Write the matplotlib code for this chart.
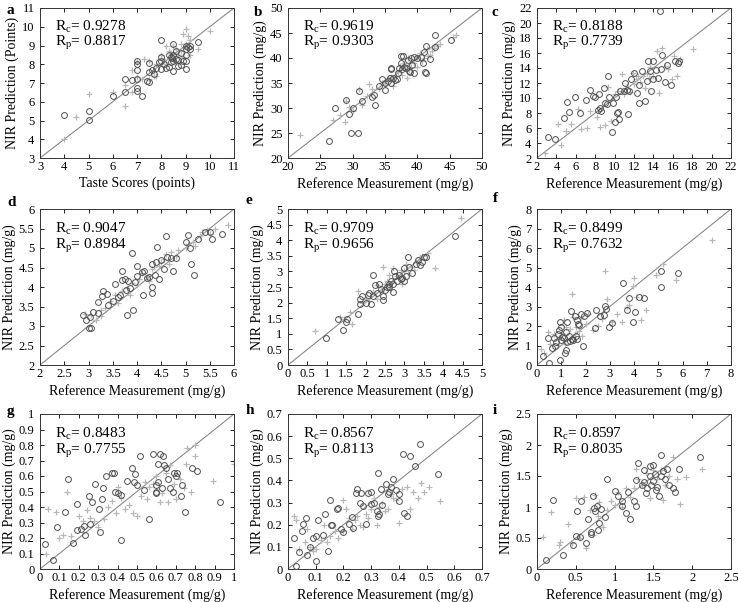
import numpy as np
import matplotlib.pyplot as plt

plt.rcParams['font.family'] = ['Liberation Serif', 'DejaVu Serif']
plt.rcParams['mathtext.fontset'] = 'custom'
plt.rcParams['mathtext.rm'] = 'Liberation Serif'

# ---- data: (reference, predicted) ; cal = "+" points, pred = "o" points ----
a_pred = [(4.0,5.3),(5.0,5.5),(5.0,5.05),(6.0,6.3),(6.5,7.2),(6.5,6.5),(6.8,7.15),(7.0,8.2),(7.0,8.0),(7.0,7.7),
          (7.0,7.2),(7.0,6.75),(7.0,6.6),(7.2,6.3),(7.4,7.1),(7.5,7.05),(7.5,7.6),(7.5,8.05),(7.6,7.7),(7.8,7.8),
          (7.9,8.1),(8.0,9.3),(8.0,8.4),(8.0,8.2),(8.0,7.75),(8.1,8.0),(8.2,7.8),(8.3,7.85),(8.4,8.1),(8.4,8.4),
          (8.5,8.5),(8.5,9.1),(8.5,7.65),(8.5,8.2),(8.6,8.3),(8.6,8.7),(8.7,7.9),(8.7,8.25),(8.8,8.6),(8.8,7.95),
          (8.9,8.2),(9.0,9.0),(9.0,8.8),(9.0,8.2),(9.0,7.75),(9.0,8.5),(9.1,8.9),(9.2,9.0),(9.2,8.8),(9.5,9.2),
          (8.3,8.5),(8.45,8.35),(7.7,7.5)]
a_cal = [(4.0,4.0),(4.5,5.2),(5.0,6.4),(6.0,6.5),(6.5,5.8),(6.5,6.9),(6.8,7.7),(6.8,6.5),(7.0,7.3),(7.0,8.1),
         (7.2,7.2),(7.3,8.3),(7.5,8.2),(7.5,7.2),(7.7,7.4),(7.8,8.0),(7.8,7.35),(8.0,8.5),(8.1,8.3),(8.2,8.0),
         (8.3,8.7),(8.4,8.6),(8.5,8.95),(8.5,8.3),(8.6,8.8),(8.7,8.5),(8.8,9.1),(8.8,8.7),(8.9,8.4),(9.0,9.9),
         (9.0,9.1),(9.1,9.5),(9.2,8.5),(9.2,9.3),(9.5,8.8),(10.0,9.75),(8.6,8.1),(8.9,9.6),(8.2,9.0)]

b_pred = [(26.4,23.5),(27.3,30),(29,31.7),(29.5,28.8),(29.7,25.1),(30,30),(30.9,25.1),(31,33.5),(31.5,31.5),(33,32.3),
          (33.3,32.6),(33.5,30.6),(34,34.4),(34.5,35.8),(35,33.7),(35,35.1),(35.5,35.5),(35.8,36.1),(36,37.9),(36,38),
          (36,35),(36.3,36),(36.5,35.7),(36.8,35.9),(37,37),(37.2,38),(37.5,39),(37.5,40.4),(37.8,40.4),(37.7,37.9),
          (38,38.2),(38.2,38),(38.5,39.6),(38.7,37.4),(39,40),(39.2,38.6),(39.5,37),(39.5,40.2),(40,40),(40.5,40.3),
          (40.8,39),(41,41.2),(41.2,37.3),(41.4,37),(41.4,42.5),(42,39.8),(42.7,44.6),(42.8,42.3),(45.2,43.7),(38.8,37.2)]
b_cal = [(21.8,24.6),(27,27.6),(28,28.6),(28.8,27.3),(29,31.5),(29.5,30.3),(30,29.5),(31.5,30.6),(31,33.8),(32.2,32.5),
         (32.5,34.8),(33,33.8),(34,34),(34.5,35),(35,34.6),(35.5,36),(36,36.3),(36.3,34.5),(37,37.3),(37.3,38.5),
         (37.7,36.6),(38,39.1),(38.4,36),(38.7,37.6),(39,38.2),(39.5,39.1),(39.9,40.3),(40,38.3),(40.4,41.1),(40.7,39.5),
         (41,40),(41.5,41.9),(41.7,40.5),(42,40.7),(42.5,42),(43,42.5),(43.5,42.8),(45.5,44.2),(46,44.6),(42.2,41.4),
         (38.6,40)]

c_pred = [(3.1,4.8),(3.9,4.6),(4.8,7.4),(5.1,9.5),(5.3,8.1),(5.9,10.1),(6.4,8.0),(7.0,9.8),(7.5,11.1),(7.8,10.3),
          (8.0,10.1),(8.4,10.5),(8.3,8.4),(8.5,8.7),(8.6,8.3),(8.9,11.3),(9.0,9.3),(9.2,9.2),(9.3,12.9),(9.4,10.1),
          (9.7,5.5),(9.8,9.4),(10.0,6.8),(10.1,10.1),(10.2,8.0),(10.3,8.2),(10.5,7.2),(10.6,11.0),(11.0,11.0),(11.1,12.0),
          (11.3,11.1),(11.4,7.9),(11.5,11.0),(11.7,12.5),(12.0,13.4),(12.3,10.7),(12.5,9.3),(12.5,11.8),(12.8,13.6),(13.1,9.6),
          (13.3,12.3),(13.4,15.0),(13.6,13.6),(13.8,11.0),(14.0,12.5),(14.0,14.9),(14.3,13.8),(14.5,12.7),(14.7,21.6),(14.8,13.9),
          (14.9,15.8),(15.2,12.2),(15.4,14.4),(15.8,11.8),(16.2,14.9),(16.5,14.7),(16.6,15.0)]
c_cal = [(2.8,2.7),(4.2,6.5),(4.5,3.8),(5.0,5.6),(5.5,6.6),(6.2,8.6),(6.5,5.9),(7.2,6.0),(7.5,8.3),(8.2,7.5),
         (8.5,6.2),(9.0,6.4),(9.3,11.5),(9.6,7.0),(10.0,10.5),(10.4,10.9),(10.8,13.2),(11.0,10.5),(11.3,11.6),(11.6,10.8),
         (12.0,11.9),(12.2,12.6),(12.6,12.1),(12.9,13.0),(13.1,11.4),(13.3,13.3),(13.5,12.7),(13.7,14.1),(14.0,13.0),(14.4,16.3),
         (14.6,10.7),(14.9,16.6),(15.2,14.3),(15.5,13.9),(15.9,12.5),(16.1,15.6),(16.4,13.0),(16.7,15.2),(18.1,16.5),(12.4,12.9),
         (11.9,13.4)]

d_pred = [(2.88,3.27),(2.95,3.16),(3.0,2.95),(3.05,2.95),(3.03,3.22),(3.1,3.35),(3.2,3.62),(3.2,3.33),(3.27,3.77),(3.3,3.9),
          (3.38,3.83),(3.4,3.55),(3.5,3.65),(3.55,4.07),(3.6,3.75),(3.65,3.8),(3.7,4.18),(3.7,4.4),(3.75,4.2),(3.78,3.93),
          (3.8,3.27),(3.82,4.15),(3.85,3.97),(3.9,4.87),(3.92,3.42),(3.95,4.12),(4.0,4.28),(4.0,4.53),(4.1,4.38),(4.12,3.8),
          (4.15,4.42),(4.2,4.23),(4.25,4.25),(4.3,3.85),(4.3,4.0),(4.3,4.6),(4.38,4.3),(4.4,4.65),(4.42,5.03),(4.45,4.2),
          (4.5,4.7),(4.55,4.45),(4.6,5.3),(4.62,4.78),(4.7,4.75),(4.75,4.4),(4.8,4.75),(5.0,5.15),(5.05,5.33),(5.1,5.0),
          (5.12,4.6),(5.18,4.3),(5.25,5.22),(5.4,5.4),(5.5,5.4),(5.55,5.22),(5.75,5.35)]
d_cal = [(2.92,3.32),(3.05,3.28),(3.15,3.15),(3.25,3.42),(3.35,3.45),(3.45,3.65),(3.55,3.8),(3.6,3.6),(3.7,3.9),(3.8,3.98),
         (3.85,3.8),(3.9,4.1),(4.0,4.05),(4.05,4.2),(4.1,4.35),(4.2,4.25),(4.3,4.45),(4.35,4.52),(4.45,4.55),(4.5,4.65),
         (4.55,4.72),(4.6,4.85),(4.65,4.6),(4.7,4.9),(4.8,4.8),(4.85,4.95),(5.0,5.0),(5.05,5.1),(5.15,5.15),(5.2,5.05),
         (5.3,5.3),(5.35,5.4),(5.45,5.45),(5.5,5.35),(5.6,5.5),(5.88,5.58),(3.25,3.25),(4.25,4.15)]

e_pred = [(0.98,0.87),(1.28,1.48),(1.42,1.12),(1.5,1.38),(1.52,1.47),(1.8,1.62),(1.85,1.95),(1.9,2.2),(2.0,2.0),(2.05,2.25),
          (2.1,2.3),(2.15,1.95),(2.2,2.9),(2.2,2.2),(2.25,2.55),(2.3,2.3),(2.35,2.6),(2.4,2.45),(2.45,2.2),(2.45,2.08),
          (2.5,2.4),(2.55,2.5),(2.6,2.5),(2.65,2.7),(2.7,2.35),(2.7,2.6),(2.72,3.0),(2.75,2.85),(2.8,2.7),(2.85,2.9),
          (2.9,2.75),(2.95,2.8),(3.0,3.1),(3.0,2.7),(3.05,2.85),(3.1,3.45),(3.12,3.15),(3.2,2.95),(3.3,3.25),(3.35,3.35),
          (3.4,3.2),(3.45,3.3),(3.5,3.45),(3.55,3.45),(4.3,4.15),(2.6,2.6),(1.85,2.12)]
e_cal = [(0.7,1.1),(1.35,1.55),(1.45,1.48),(1.6,1.7),(1.8,2.38),(1.9,2.0),(2.0,2.1),(2.1,2.05),(2.2,2.35),(2.3,2.55),
         (2.3,2.1),(2.4,2.4),(2.5,2.6),(2.55,2.7),(2.6,2.9),(2.65,2.45),(2.7,3.1),(2.8,2.85),(2.9,3.05),(2.95,2.6),
         (3.0,3.0),(3.05,3.25),(3.1,2.95),(3.2,3.15),(3.25,3.05),(3.3,3.3),(3.4,3.45),(3.45,3.5),(3.6,3.6),(3.8,3.12),
         (4.45,4.7),(2.45,3.15),(1.65,1.3)]

f_pred = [(0.25,0.45),(0.45,1.4),(0.5,0.1),(0.6,0.85),(0.7,1.4),(0.75,1.0),(0.8,1.2),(0.85,1.6),(0.9,1.8),(0.95,2.2),
          (0.95,0.25),(1.0,1.3),(1.0,1.95),(1.05,1.45),(1.1,1.4),(1.15,0.6),(1.2,0.75),(1.2,1.7),(1.25,2.2),(1.25,1.2),
          (1.3,1.5),(1.35,1.25),(1.4,2.75),(1.45,1.35),(1.5,1.3),(1.55,2.5),(1.6,1.5),(1.65,2.3),(1.7,2.1),(1.75,2.05),
          (1.8,2.6),(1.9,1.0),(1.95,2.5),(2.05,2.65),(2.4,1.9),(2.45,2.8),(2.6,2.5),(2.75,2.55),(2.8,3.05),(2.85,2.85),
          (2.95,1.95),(3.1,2.15),(3.55,4.2),(3.7,2.8),(3.8,3.45),(3.95,2.2),(4.05,2.7),(4.2,3.5),(4.4,3.45),(5.1,4.0),
          (5.1,4.8),(5.8,4.7),(1.65,1.35)]
f_cal = [(0.15,0.8),(0.3,0.6),(0.45,1.7),(0.55,1.1),(0.7,1.6),(0.85,1.05),(0.9,1.4),(1.05,1.65),(1.1,2.3),(1.15,1.1),
         (1.2,1.95),(1.35,1.85),(1.45,3.65),(1.5,2.45),(1.55,1.6),(1.6,1.95),(1.75,1.75),(1.8,2.4),(1.85,1.5),(2.0,2.1),
         (2.1,2.6),(2.3,1.8),(2.5,2.0),(2.7,2.35),(2.8,4.8),(2.9,3.4),(3.1,2.2),(3.3,2.6),(3.5,2.2),(3.7,3.0),
         (3.8,3.1),(4.0,4.45),(4.1,3.5),(4.3,2.3),(4.5,2.8),(4.9,4.6),(5.2,5.2),(5.75,4.35),(7.2,6.4),(3.95,4.05)]

g_pred = [(0.025,0.16),(0.065,0.06),(0.09,0.27),(0.13,0.37),(0.145,0.58),(0.17,0.17),(0.19,0.42),(0.19,0.25),(0.21,0.26),(0.225,0.28),
          (0.23,0.22),(0.25,0.47),(0.26,0.29),(0.27,0.43),(0.285,0.55),(0.305,0.39),(0.31,0.24),(0.32,0.45),(0.325,0.52),(0.34,0.6),
          (0.37,0.62),(0.38,0.62),(0.385,0.50),(0.4,0.49),(0.415,0.48),(0.42,0.19),(0.45,0.57),(0.475,0.65),(0.485,0.56),(0.49,0.61),
          (0.5,0.54),(0.515,0.73),(0.535,0.51),(0.56,0.32),(0.58,0.74),(0.6,0.49),(0.6,0.54),(0.61,0.56),(0.61,0.68),(0.62,0.74),
          (0.63,0.52),(0.635,0.73),(0.64,0.67),(0.65,0.65),(0.66,0.58),(0.67,0.52),(0.685,0.50),(0.69,0.62),(0.7,0.60),(0.705,0.62),
          (0.725,0.47),(0.73,0.54),(0.745,0.37),(0.785,0.65),(0.81,0.63),(0.93,0.43),(0.6,0.5)]
g_cal = [(0.03,0.1),(0.04,0.39),(0.08,0.37),(0.1,0.2),(0.12,0.22),(0.14,0.5),(0.16,0.21),(0.2,0.34),(0.22,0.31),(0.24,0.38),
         (0.26,0.33),(0.28,0.31),(0.3,0.27),(0.33,0.32),(0.35,0.4),(0.37,0.44),(0.39,0.36),(0.4,0.53),(0.42,0.46),(0.44,0.39),
         (0.46,0.41),(0.48,0.36),(0.5,0.34),(0.52,0.47),(0.54,0.56),(0.56,0.53),(0.58,0.55),(0.6,0.6),(0.62,0.43),(0.63,0.49),
         (0.65,0.62),(0.67,0.67),(0.69,0.55),(0.7,0.45),(0.72,0.58),(0.74,0.52),(0.75,0.68),(0.76,0.78),(0.78,0.5),(0.8,0.8),
         (0.8,0.73),(0.89,0.57),(1.0,0.68),(0.55,0.45),(0.66,0.43)]

h_pred = [(0.022,0.14),(0.03,0.015),(0.04,0.075),(0.05,0.17),(0.055,0.205),(0.065,0.23),(0.07,0.065),(0.08,0.1),(0.09,0.14),(0.1,0.035),
          (0.1,0.15),(0.11,0.22),(0.125,0.155),(0.135,0.25),(0.145,0.08),(0.15,0.31),(0.155,0.2),(0.16,0.2),(0.175,0.27),(0.18,0.275),
          (0.19,0.18),(0.2,0.165),(0.22,0.205),(0.23,0.235),(0.235,0.185),(0.245,0.345),(0.25,0.36),(0.26,0.30),(0.265,0.345),(0.27,0.285),
          (0.28,0.205),(0.29,0.345),(0.3,0.295),(0.3,0.35),(0.31,0.3),(0.32,0.26),(0.325,0.435),(0.325,0.24),(0.33,0.25),(0.335,0.36),
          (0.34,0.29),(0.355,0.385),(0.36,0.34),(0.365,0.35),(0.37,0.37),(0.38,0.405),(0.39,0.355),(0.4,0.305),(0.4,0.34),(0.415,0.52),
          (0.42,0.255),(0.43,0.24),(0.44,0.51),(0.46,0.465),(0.475,0.565),(0.54,0.43)]
h_cal = [(0.02,0.24),(0.03,0.22),(0.04,0.09),(0.06,0.12),(0.07,0.18),(0.08,0.1),(0.09,0.08),(0.1,0.09),(0.12,0.13),(0.13,0.2),
         (0.14,0.12),(0.15,0.15),(0.17,0.17),(0.18,0.14),(0.2,0.17),(0.21,0.27),(0.22,0.23),(0.23,0.18),(0.24,0.22),(0.25,0.24),
         (0.26,0.2),(0.27,0.19),(0.28,0.25),(0.29,0.23),(0.3,0.27),(0.31,0.32),(0.32,0.2),(0.33,0.28),(0.34,0.3),(0.35,0.26),
         (0.36,0.27),(0.37,0.34),(0.38,0.32),(0.39,0.31),(0.4,0.21),(0.41,0.36),(0.43,0.37),(0.45,0.35),(0.47,0.32),(0.48,0.39),
         (0.49,0.35),(0.51,0.37),(0.55,0.305),(0.44,0.27),(0.2,0.31)]

i_pred = [(0.12,0.14),(0.2,1.11),(0.33,0.22),(0.47,0.38),(0.5,0.53),(0.52,0.94),(0.55,0.51),(0.57,1.09),(0.63,0.42),(0.66,0.8),
          (0.7,0.6),(0.7,0.57),(0.72,1.18),(0.74,0.98),(0.75,0.94),(0.77,1.02),(0.78,0.63),(0.8,0.74),(0.82,0.97),(0.87,0.84),
          (0.9,1.45),(1.0,1.26),(1.05,1.18),(1.1,1.02),(1.1,1.1),(1.15,0.91),(1.17,1.25),(1.2,0.8),(1.25,1.1),(1.27,1.02),
          (1.28,1.43),(1.3,1.71),(1.35,1.36),(1.38,1.6),(1.4,1.23),(1.42,1.3),(1.45,1.5),(1.45,1.66),(1.47,1.35),(1.5,1.67),
          (1.5,1.42),(1.52,1.54),(1.53,1.28),(1.55,1.32),(1.57,1.18),(1.6,1.84),(1.6,1.5),(1.62,1.58),(1.65,1.45),(1.68,1.62),
          (1.7,1.36),(1.75,1.3),(1.78,1.24),(1.83,1.61),(2.1,1.8),(1.38,1.4)]
i_cal = [(0.08,0.51),(0.18,0.92),(0.28,0.38),(0.3,0.43),(0.4,0.73),(0.45,0.42),(0.5,1.15),(0.55,0.5),(0.6,1.16),(0.63,0.34),
         (0.68,0.95),(0.72,0.55),(0.75,1.2),(0.78,0.85),(0.8,1.08),(0.85,0.68),(0.9,0.95),(0.95,1.1),(1.0,1.04),(1.05,1.25),
         (1.1,1.0),(1.15,1.3),(1.2,1.16),(1.25,1.3),(1.3,1.45),(1.35,1.35),(1.4,1.55),(1.45,1.15),(1.5,1.6),(1.55,1.45),
         (1.6,1.6),(1.62,1.12),(1.65,1.35),(1.7,1.5),(1.75,1.8),(1.8,1.45),(1.84,1.05),(1.92,1.49),(2.12,1.62),(1.28,1.62)]

letters = ['a', 'b', 'c', 'd', 'e', 'f', 'g', 'h', 'i']
rc_vals = ['0.9278', '0.9619', '0.8188', '0.9047', '0.9709', '0.8499', '0.8483', '0.8567', '0.8597']
rp_vals = ['0.8817', '0.9303', '0.7739', '0.8984', '0.9656', '0.7632', '0.7755', '0.8113', '0.8035']
limits = [(3, 11), (20, 50), (2, 22), (2, 6), (0, 5), (0, 8), (0, 1), (0, 0.7), (0, 2.5)]
steps = [1, 5, 2, 0.5, 0.5, 1, 0.1, 0.1, 0.5]
xlabels = ['Taste Scores (points)'] + ['Reference Measurement (mg/g)'] * 8
ylabels = ['NIR Prediction (Points)'] + ['NIR Prediction (mg/g)'] * 8
preds = [a_pred, b_pred, c_pred, d_pred, e_pred, f_pred, g_pred, h_pred, i_pred]
cals = [a_cal, b_cal, c_cal, d_cal, e_cal, f_cal, g_cal, h_cal, i_cal]

fig = plt.figure(figsize=(7.38, 6.02), dpi=100)
W, H = 738, 602
lefts = [40, 288, 537]
rows = [(8, 158), (209, 365), (414, 569)]
aw = 194
# panel letter centres (pixels from top-left)
letter_pos = [(10, 10), (258, 12), (495, 12), (12, 202), (249, 200), (495, 198), (10, 412), (250, 410), (495, 410)]


def fmt(v):
    return ('%.2f' % v).rstrip('0').rstrip('.')


for k in range(9):
    r, c = divmod(k, 3)
    top, bot = rows[r]
    ax = fig.add_axes([lefts[c] / W, 1 - bot / H, aw / W, (bot - top) / H])
    lo, hi = limits[k]
    ax.plot([lo, hi], [lo, hi], color='#8a8a8a', lw=0.8, zorder=1)
    cx, cy = zip(*cals[k])
    ax.plot(cx, cy, '+', color='#b8b8b8', ms=4, mew=0.9, zorder=2)
    px, py = zip(*preds[k])
    ax.plot(px, py, 'o', mfc='none', mec='#505050', ms=4.2, mew=0.7, zorder=3)
    ticks = np.arange(lo, hi + steps[k] / 2, steps[k])
    ax.set_xlim(lo, hi)
    ax.set_ylim(lo, hi)
    ax.set_xticks(ticks)
    ax.set_yticks(ticks)
    ax.set_xticklabels([fmt(t) for t in ticks])
    ax.set_yticklabels([fmt(t) for t in ticks])
    ax.tick_params(direction='in', length=3, width=0.6, labelsize=9,
                   top=True, right=True)
    ax.tick_params(axis='x', pad=2)
    ax.tick_params(axis='y', pad=4)
    for sp in ax.spines.values():
        sp.set_linewidth(0.7)
        sp.set_color('#333333')
    ax.set_xlabel(xlabels[k], fontsize=10, labelpad=3)
    ax.set_ylabel(ylabels[k], fontsize=10, labelpad=2)
    ax.text(0.075, 0.845, r'$\mathregular{R_c}$= ' + rc_vals[k], transform=ax.transAxes, fontsize=11)
    ax.text(0.075, 0.745, r'$\mathregular{R_p}$= ' + rp_vals[k], transform=ax.transAxes, fontsize=11)
    lx, ly = letter_pos[k]
    fig.text(lx / W, 1 - ly / H, letters[k], fontsize=11, fontweight='bold', ha='center', va='center')

fig.savefig('out.png', dpi=100)
